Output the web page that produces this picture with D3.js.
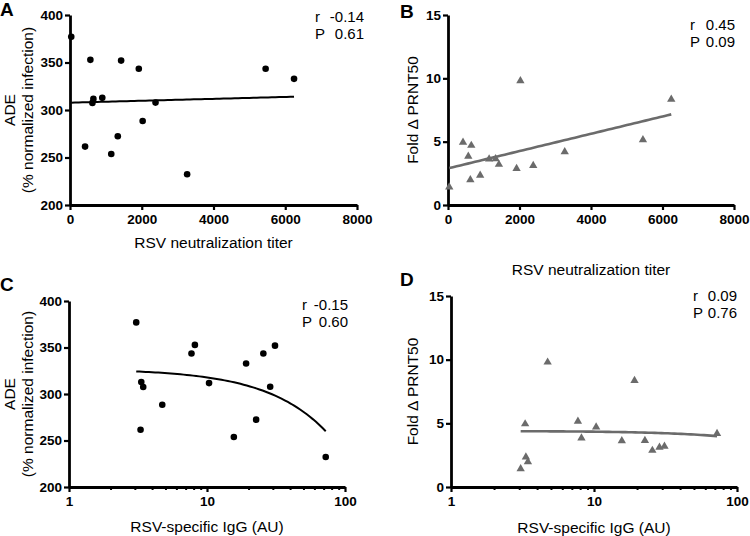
<!DOCTYPE html>
<html>
<head>
<meta charset="utf-8">
<script src="https://cdn.jsdelivr.net/npm/d3@7"></script>
<style>
  body { margin: 0; background: #fff; }
  text { font-family: "Liberation Sans", Arial, sans-serif; }
</style>
</head>
<body>
<svg id="fig" width="750" height="536"></svg>
<script>

// one entry per subject
var titer = [35, 420, 900, 625, 2025, 5453, 1918, 568, 1425, 652, 1150, 1332, 6245, 2384, 3265];
var igg   = [3.07, 3.30, 3.34, 3.45, 4.74, 7.72, 25.6, 8.17, 31.1, 10.35, 15.65, 22.7, 19.2, 28.7, 72.5];
var ade   = [377, 261.5, 312.8, 307.5, 288.5, 343.5, 343.5, 352.8, 352, 311.7, 253.7, 272.4, 332.8, 307.8, 232.3];
var fold  = [1.42, 4.95, 2.35, 1.98, 9.8, 5.15, 2.87, 3.84, 3.2, 4.7, 3.63, 3.65, 8.35, 3.11, 4.2];

// fitted lines [intercept, slope], as drawn in the figure
var fitA = [307.7, 0.00101];
var fitB = [2.89, 0.000683];
var fitC = [327.1, -0.926];
var fitD = [4.40, -0.0056];

// r / P labels
var statsA = ['-0.14', '0.61'];
var statsB = ['0.45', '0.09'];
var statsC = ['-0.15', '0.60'];
var statsD = ['0.09', '0.76'];

var titerTicks = [0, 2000, 4000, 6000, 8000];
var adeTicks = [200, 250, 300, 350, 400];
var foldTicks = [0, 5, 10, 15];
var iggTicks = [1, 10, 100];
var iggMinor = [2, 3, 4, 5, 6, 7, 8, 9, 20, 30, 40, 50, 60, 70, 80, 90];

var svg = d3.select('#fig');

function panel(p) {
  var g = svg.append('g');
  var x = p.log
      ? d3.scaleLog().domain([1, 100]).range([p.x0, p.x1])
      : d3.scaleLinear().domain([0, 8000]).range([p.x0, p.x1]);
  var y = d3.scaleLinear().domain(p.yDomain).range([p.y0, p.y1]);

  // minor ticks first so the main axis sits on top
  if (p.log) {
    g.append('g')
        .attr('transform', 'translate(0,' + p.y0 + ')')
        .call(d3.axisBottom(x).tickValues(iggMinor).tickFormat('').tickSize(3).tickSizeOuter(0))
        .call(function(s) {
          s.select('.domain').remove();
          s.selectAll('line').attr('stroke-width', 2);
        });
  }

  var xAxis = d3.axisBottom(x).tickValues(p.log ? iggTicks : titerTicks)
      .tickSize(5).tickSizeOuter(0).tickPadding(4).tickFormat(d3.format('d'));
  var yAxis = d3.axisLeft(y).tickValues(p.yTicks)
      .tickSize(5).tickSizeOuter(0).tickPadding(2).tickFormat(d3.format('d'));

  [ g.append('g').attr('transform', 'translate(0,' + p.y0 + ')').call(xAxis),
    g.append('g').attr('transform', 'translate(' + p.x0 + ',0)').call(yAxis) ]
    .forEach(function(a) {
      a.select('.domain').attr('stroke-width', 2.8);
      a.selectAll('.tick line').attr('stroke-width', 2.2);
      a.selectAll('.tick text')
          .attr('font-size', '13.5px')
          .attr('font-weight', 'bold')
          .attr('fill', '#000')
          .style('font-family', '"Liberation Sans", Arial, sans-serif');
    });

  // fitted line (straight in data space, so sample it for the log axis)
  var xs = p.log ? igg : titer;
  var lo = d3.min(xs), hi = d3.max(xs);
  var samples = d3.range(0, 61).map(function(i) {
    var t = i / 60;
    return p.log ? lo * Math.pow(hi / lo, t) : lo + (hi - lo) * t;
  });
  g.append('path')
      .datum(samples)
      .attr('fill', 'none')
      .attr('stroke', p.color)
      .attr('stroke-width', p.lineWidth)
      .attr('d', d3.line()
        .x(function(d) { return x(d); })
        .y(function(d) { return y(p.fit[0] + p.fit[1] * d); }));

  // points
  var ys = p.ys;
  if (p.marker === 'circle') {
    g.selectAll('circle').data(xs).enter().append('circle')
        .attr('cx', function(d) { return x(d); })
        .attr('cy', function(d, i) { return y(ys[i]); })
        .attr('r', 3.3)
        .attr('fill', '#000');
  } else {
    var tri = d3.symbol().type(d3.symbolTriangle).size(30);
    g.selectAll('path.pt').data(xs).enter().append('path')
        .attr('class', 'pt')
        .attr('d', tri)
        .attr('transform', function(d, i) {
          return 'translate(' + x(d) + ',' + y(ys[i]) + ')';
        })
        .attr('fill', '#6b6b6b');
  }

  // axis titles
  g.append('text')
      .attr('x', (p.x0 + p.x1) / 2)
      .attr('y', p.xTitleY)
      .attr('text-anchor', 'middle')
      .attr('font-size', '15.5px')
      .text(p.xTitle);
  p.yTitle.forEach(function(line, i) {
    var tx = p.yTitleX[i], ty = (p.y0 + p.y1) / 2;
    g.append('text')
        .attr('transform', 'translate(' + tx + ',' + ty + ') rotate(-90)')
        .attr('text-anchor', 'middle')
        .attr('font-size', '15.5px')
        .text(line);
  });

  // r and P
  ['r', 'P'].forEach(function(l, i) {
    var by = p.statsY + i * 16.6;
    g.append('text').attr('x', p.statsX).attr('y', by)
        .attr('font-size', '15px').text(l);
    g.append('text').attr('x', p.statsEnd).attr('y', by)
        .attr('text-anchor', 'end')
        .attr('font-size', '15px').text(p.stats[i]);
  });

  // panel letter
  g.append('text')
      .attr('x', p.letterX).attr('y', p.letterY)
      .attr('font-size', '19px').attr('font-weight', 'bold')
      .text(p.letter);
}

panel({ letter: 'A', letterX: 0, letterY: 16, log: false,
  x0: 70, x1: 357, y0: 205, y1: 15, yDomain: [200, 400], yTicks: adeTicks,
  ys: ade, fit: fitA, marker: 'circle', color: '#000', lineWidth: 2,
  xTitle: 'RSV neutralization titer', xTitleY: 248,
  yTitle: ['ADE', '(% normalized infection)'], yTitleX: [15, 33],
  stats: statsA, statsX: 315, statsEnd: 364, statsY: 22 });

panel({ letter: 'B', letterX: 400, letterY: 18, log: false,
  x0: 448, x1: 734, y0: 205, y1: 15, yDomain: [0, 15], yTicks: foldTicks,
  ys: fold, fit: fitB, marker: 'triangle', color: '#6b6b6b', lineWidth: 2.6,
  xTitle: 'RSV neutralization titer', xTitleY: 275,
  yTitle: ['Fold \u0394 PRNT50'], yTitleX: [418],
  stats: statsB, statsX: 690, statsEnd: 735, statsY: 30 });

panel({ letter: 'C', letterX: 0, letterY: 291, log: true,
  x0: 69, x1: 345, y0: 487, y1: 301, yDomain: [200, 400], yTicks: adeTicks,
  ys: ade, fit: fitC, marker: 'circle', color: '#000', lineWidth: 2,
  xTitle: 'RSV-specific IgG (AU)', xTitleY: 532,
  yTitle: ['ADE', '(% normalized infection)'], yTitleX: [15, 33],
  stats: statsC, statsX: 302, statsEnd: 348, statsY: 310 });

panel({ letter: 'D', letterX: 400, letterY: 286, log: true,
  x0: 451, x1: 737, y0: 487, y1: 296, yDomain: [0, 15], yTicks: foldTicks,
  ys: fold, fit: fitD, marker: 'triangle', color: '#6b6b6b', lineWidth: 2.6,
  xTitle: 'RSV-specific IgG (AU)', xTitleY: 533,
  yTitle: ['Fold \u0394 PRNT50'], yTitleX: [418],
  stats: statsD, statsX: 693, statsEnd: 737, statsY: 301 });

</script>
</body>
</html>
